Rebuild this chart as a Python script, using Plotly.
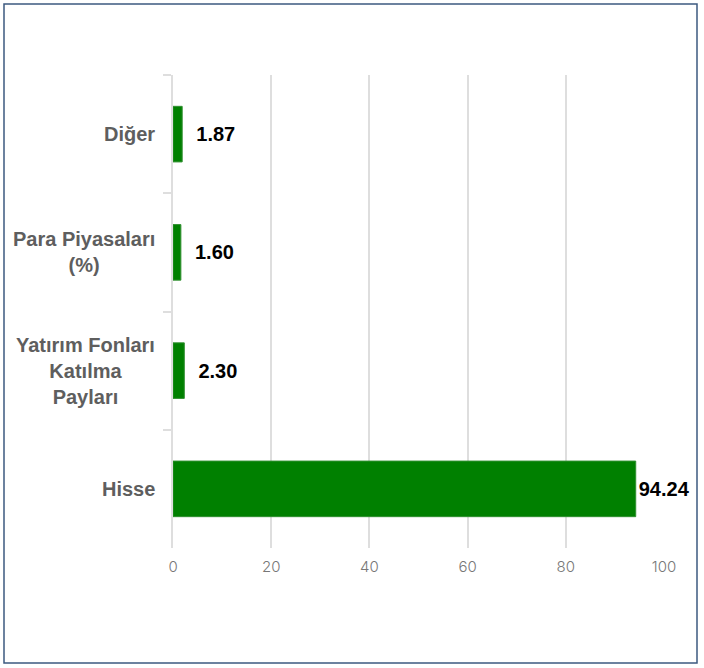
import plotly.graph_objects as go

categories = ["Diğer", "Para Piyasaları<br>(%)", "Yatırım Fonları<br>Katılma<br>Payları", "Hisse"]
values = [1.87, 1.60, 2.30, 94.24]
x_ticks = [0, 20, 40, 60, 80, 100]

NB = "\u00a0"
labels = [(NB * 2 if v < 50 else "") + f"{v:.2f}" for v in values]

fig = go.Figure(go.Bar(
    x=values, y=categories, orientation="h",
    marker=dict(color="#008000", line=dict(color="#2f8f2f", width=1)),
    text=labels, textposition="outside", cliponaxis=False, constraintext="none",
    textfont=dict(family="Liberation Sans", size=20, color="#000000", weight="bold"),
    hoverinfo="skip",
))

L, R, T, B = 173, 40, 75, 120
W, H = 704, 668
pw, ph = W - L - R, H - T - B

cat_labels = [dict(x=0, xref="paper", y=c, yref="y", text=c, showarrow=False,
                   xanchor="right", yanchor="middle", align="center", xshift=-16,
                   font=dict(family="Liberation Sans", size=20, color="#5e5e5e", weight="bold"))
              for c in categories]

fig.update_layout(
    width=W, height=H,
    margin=dict(l=L, r=R, t=T, b=B, autoexpand=False),
    paper_bgcolor="white", plot_bgcolor="white",
    bargap=0.53, showlegend=False,
    xaxis=dict(range=[0, 100], tickvals=x_ticks, showgrid=True, gridcolor="#dedede", gridwidth=2,
               zeroline=False, showline=False, ticks="", ticklabelstandoff=8,
               tickfont=dict(family="Inter", size=15, color="#777777", weight=300)),
    yaxis=dict(autorange="reversed", showline=True, linecolor="#dedede", linewidth=2,
               ticks="outside", tickson="boundaries", ticklen=8, tickcolor="#dedede", tickwidth=2,
               showgrid=False, zeroline=False, showticklabels=False),
    annotations=cat_labels,
    shapes=[dict(type="rect", xref="paper", yref="paper",
                 x0=(4 - L) / pw, x1=(697 - L) / pw,
                 y0=(T + ph - 663) / ph, y1=(T + ph - 4) / ph,
                 line=dict(color="#3d5a80", width=1.5), fillcolor="rgba(0,0,0,0)", layer="below")],
)

fig.write_html("out.html", config={"displayModeBar": False},
               post_script="document.body.style.margin='0';document.body.style.padding='0';")
